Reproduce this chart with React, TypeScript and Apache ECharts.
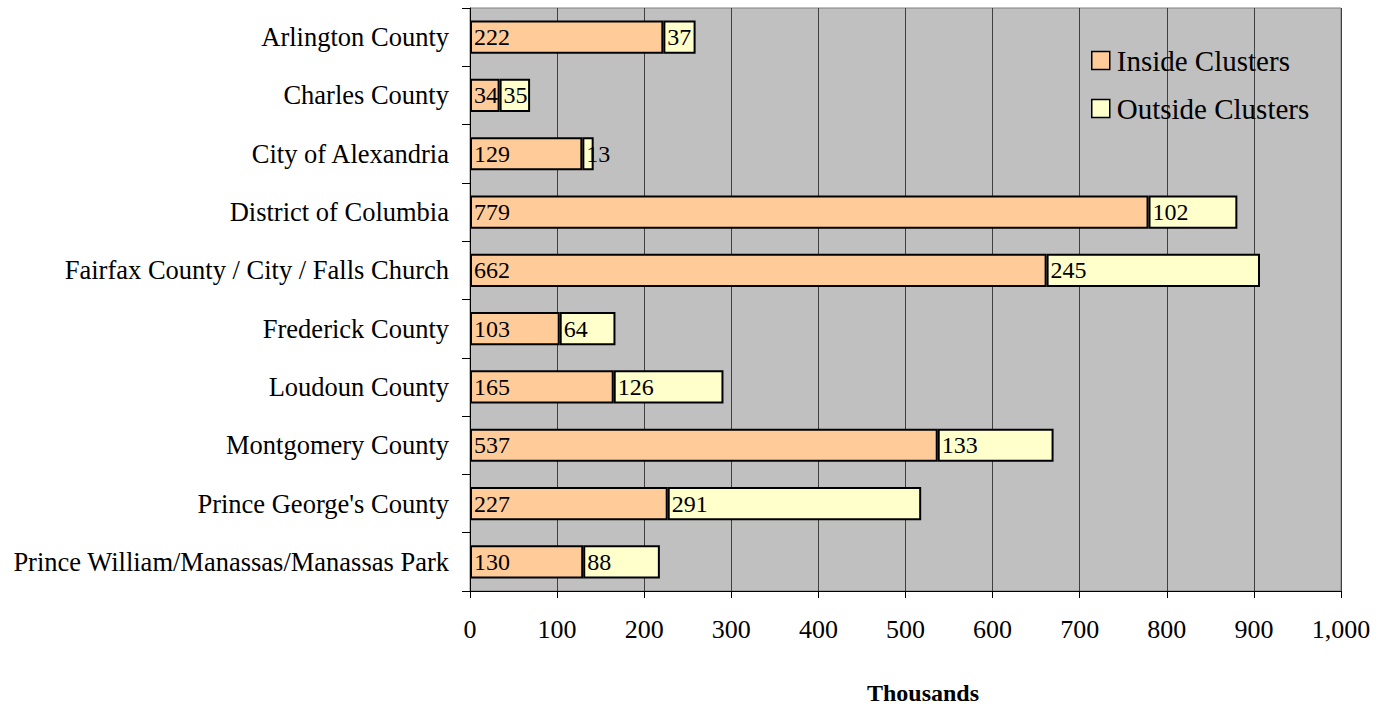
import React, { useEffect, useRef } from "react";
import * as echarts from "echarts";

const categories = [
  "Arlington County",
  "Charles County",
  "City of Alexandria",
  "District of Columbia",
  "Fairfax County / City / Falls Church",
  "Frederick County",
  "Loudoun County",
  "Montgomery County",
  "Prince George's County",
  "Prince William/Manassas/Manassas Park",
];
const insideClusters = [222, 34, 129, 779, 662, 103, 165, 537, 227, 130];
const outsideClusters = [37, 35, 13, 102, 245, 64, 126, 133, 291, 88];
const seriesNames = ["Inside Clusters", "Outside Clusters"];
const axisTitle = "Thousands";

const FONT = "Liberation Serif, Times New Roman, serif";

export default function App() {
  const ref = useRef<HTMLDivElement>(null);
  useEffect(() => {
    if (!ref.current) return;
    const chart = echarts.init(ref.current, undefined, { renderer: "svg" });
    const labelStyle = {
      show: true,
      position: "insideLeft" as const,
      distance: 4,
      color: "#000",
      fontFamily: FONT,
      fontSize: 24,
    };
    chart.setOption({
      animation: false,
      backgroundColor: "#fff",
      textStyle: { fontFamily: FONT },
      grid: {
        left: 470,
        right: 51,
        top: 8,
        bottom: 118,
        show: true,
        backgroundColor: "#C0C0C0",
        borderColor: "#808080",
        borderWidth: 1,
        containLabel: false,
      },
      legend: {
        orient: "vertical",
        left: 1091,
        top: 46,
        padding: 0,
        itemWidth: 18,
        itemHeight: 18,
        itemGap: 19,
        icon: "rect",
        itemStyle: { borderColor: "#000", borderWidth: 1.5 },
        textStyle: { fontFamily: FONT, fontSize: 29, color: "#000", padding: [0, 0, 0, 2] },
        data: seriesNames,
      },
      graphic: [
        {
          type: "text",
          x: 923,
          y: 693,
          style: {
            text: axisTitle,
            font: "bold 24px " + FONT,
            fill: "#000",
            align: "center",
            verticalAlign: "middle",
            letterSpacing: -1,
          },
        },
      ],
      xAxis: {
        type: "value",
        min: 0,
        max: 1000,
        interval: 100,
        axisLine: { show: true, lineStyle: { color: "#000" } },
        axisTick: { show: true, length: 7, lineStyle: { color: "#000" } },
        axisLabel: {
          fontFamily: FONT,
          fontSize: 26,
          color: "#000",
          margin: 25,
          formatter: (v: number) => v.toLocaleString("en-US"),
        },
        splitLine: { show: true, lineStyle: { color: "#404040", width: 1 } },
      },
      yAxis: {
        type: "category",
        data: categories,
        inverse: true,
        axisLine: { show: true, lineStyle: { color: "#000" } },
        axisTick: { show: true, length: 8, lineStyle: { color: "#000" } },
        axisLabel: { fontFamily: FONT, fontSize: 26.5, color: "#000", margin: 21 },
        splitLine: { show: false },
      },
      series: [
        {
          name: seriesNames[0],
          type: "bar",
          stack: "total",
          data: insideClusters,
          barCategoryGap: "43%",
          itemStyle: { color: "#FFCC99", borderColor: "#000", borderWidth: 2 },
          label: labelStyle,
        },
        {
          name: seriesNames[1],
          type: "bar",
          stack: "total",
          data: outsideClusters,
          barCategoryGap: "43%",
          itemStyle: { color: "#FFFFCC", borderColor: "#000", borderWidth: 2 },
          label: labelStyle,
        },
      ],
    });
    return () => chart.dispose();
  }, []);
  return (
    <div
      ref={ref}
      style={{ position: "fixed", left: 0, top: 0, width: 1392, height: 709 }}
    />
  );
}
